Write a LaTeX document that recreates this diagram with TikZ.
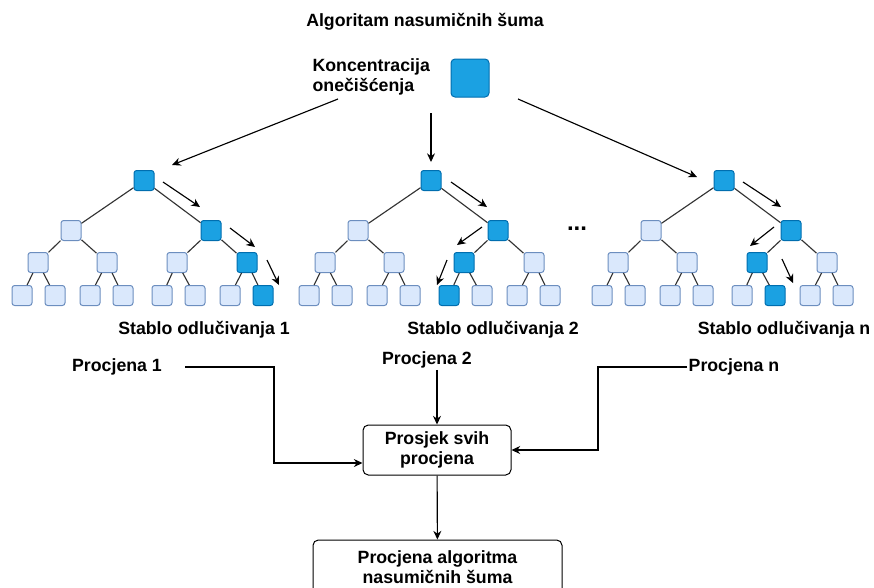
\documentclass[tikz,border=0pt]{standalone}
\usepackage{fontspec}
\setmainfont{Liberation Sans}
\usetikzlibrary{arrows.meta}

\definecolor{leafblue}{HTML}{DAE8FC}
\definecolor{leafline}{HTML}{6C8EBF}
\definecolor{hotblue}{HTML}{1BA1E2}
\definecolor{hotline}{HTML}{006EAF}

\begin{document}
\begin{tikzpicture}[x=0.75pt,y=-0.75pt,
			font=\fontsize{13.3}{15}\selectfont\bfseries,
			tree node/.style={rectangle,rounded corners=2pt,draw=leafline,fill=leafblue,
				line width=0.75pt,minimum size=15pt,inner sep=0pt},
			hot node/.style={draw=hotline,fill=hotblue},
			branch/.style={draw=black!80,line width=0.85pt},
			flow/.style={-{Stealth[length=6.5pt,width=6pt]},line width=0.85pt},
			text label/.style={inner sep=1pt,align=center},
			box node/.style={rectangle,rounded corners=4pt,draw,line width=0.75pt,align=center},
			t1r/.style=hot node,t1rb/.style=hot node,t1rbb/.style=hot node,t1rbbb/.style=hot node,
			t2r/.style=hot node,t2rb/.style=hot node,t2rba/.style=hot node,t2rbaa/.style=hot node,
			t3r/.style=hot node,t3rb/.style=hot node,t3rba/.style=hot node,t3rbab/.style=hot node]
			
			\clip (0,0) rectangle (874,587);
			
			\node[text label] (title) at (425,22) {Algoritam nasumičnih šuma};
			\node[text label,align=left,anchor=west] (kon) at (311,77) {Koncentracija\\onečišćenja};
			\node[tree node,hot node,minimum size=28.5pt,rounded corners=3pt] (src) at (470,78) {};
			
			% three decision trees
			\foreach \t/\ox in {1/0,2/287,3/580}{
				\begin{scope}[shift={(\ox,0)}]
					\foreach \n/\x/\y in {r/144/180.5,ra/71/230.5,rb/211/230.5,
						raa/38/262.5,rab/107/262.5,rba/177/262.5,rbb/247/262.5,
						raaa/22/295.5,raab/55/295.5,raba/90/295.5,rabb/123/295.5,
						rbaa/162/295.5,rbab/195/295.5,rbba/230/295.5,rbbb/263/295.5}
						\node[tree node,t\t\n/.try] (t\t\n) at (\x,\y) {};
					\foreach \p in {r,ra,rb,raa,rab,rba,rbb}
						\path[branch] (t\t\p) -- (t\t\p a) (t\t\p) -- (t\t\p b);
				\end{scope}
			}
			
			\node[font=\fontsize{18}{20}\selectfont\bfseries] (dots) at (577,229) {...};
			
			% inputs into the trees
			\coordinate (f1) at (338,99);
			\coordinate (f2) at (431,113);
			\coordinate (f3) at (518,99);
			\coordinate (e1) at (172,165);
			\coordinate (e2) at (431,162);
			\coordinate (e3) at (697,177);
			\draw[flow] (f1) -- (e1);
			\draw[flow] (f2) -- (e2);
			\draw[flow] (f3) -- (e3);
			
			% path through each tree
			\foreach \k/\ax/\ay/\bx/\by in {1/163/182/200/207,2/230/228/255/247,3/267/260/279/285,
				4/451/182/487/207,5/482/227/457/245,6/447/260/437/285,
				7/743/182/781/207,8/774/227/750/246,9/782/259/793/283}{
				\coordinate (w\k a) at (\ax,\ay);
				\coordinate (w\k b) at (\bx,\by);
				\draw[flow] (w\k a) -- (w\k b);
			}
			
			\node[text label] (s1) at (204,330) {Stablo odlučivanja 1};
			\node[text label] (s2) at (493,330) {Stablo odlučivanja 2};
			\node[text label] (sn) at (784,330) {Stablo odlučivanja n};
			
			\node[text label] (p1) at (117,367) {Procjena 1};
			\node[text label] (p2) at (427,360) {Procjena 2};
			\node[text label] (pn) at (734,367) {Procjena n};
			
			\node[box node,minimum width=111pt,minimum height=37.5pt] (avg) at (437,450) {Prosjek svih\\procjena};
			\node[box node,minimum width=186.75pt,minimum height=41.25pt] (res) at (437.5,567.5) {Procjena algoritma\\nasumičnih šuma};
			
			\coordinate (k1) at (274,463);
			\coordinate (k2) at (598,450);
			\draw[flow] ([xshift=16.5pt]p1.east) -| (k1) -- (k1 -| avg.west);
			\draw[flow] (pn.west) -| (k2) -- (avg.east);
			\draw[flow] (p2.south -| avg.north) -- (avg.north);
			\draw[flow] (avg) -- (res);
		\end{tikzpicture}
\end{document}
